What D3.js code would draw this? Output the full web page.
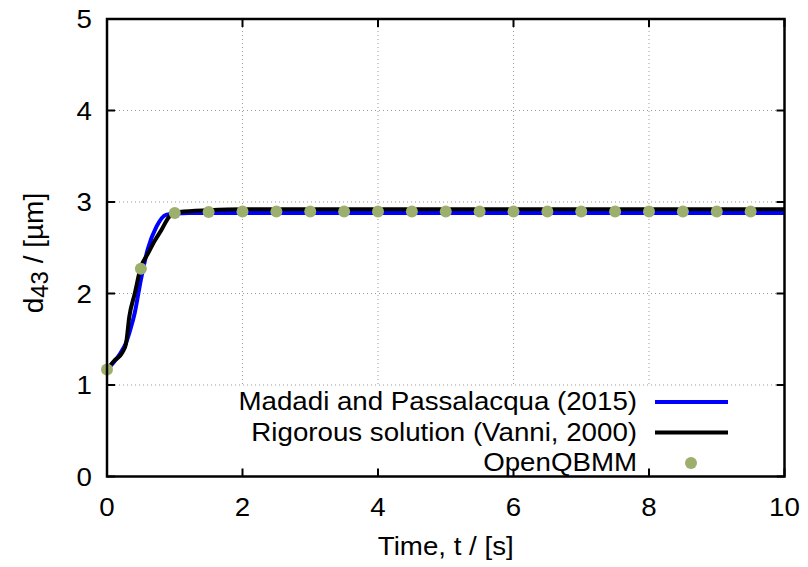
<!DOCTYPE html>
<html><head><meta charset="utf-8">
<script src="https://cdn.jsdelivr.net/npm/d3@7"></script>
<style>body{margin:0;background:#fff}svg{display:block}text{font-family:"Liberation Sans",Arial,sans-serif;fill:#000}</style>
</head><body>
<svg id="c" width="808" height="567"></svg>
<script>
const xTicks = [0, 2, 4, 6, 8, 10];
const yTicks = [0, 1, 2, 3, 4, 5];
const madadiT = [0, 0.1, 0.2, 0.28, 0.35, 0.41, 0.5, 0.6, 0.73, 0.87, 1.02, 1.2, 1.5, 2, 4, 6, 8, 10];
const madadiV = [1.17, 1.25, 1.35, 1.46, 1.62, 1.79, 2.15, 2.48, 2.73, 2.86, 2.875, 2.88, 2.88, 2.88, 2.88, 2.88, 2.88, 2.88];
const vanniT = [0, 0.1, 0.23, 0.28, 0.33, 0.41, 0.5, 0.6, 0.7, 0.8, 0.92, 1.07, 1.5, 2, 4, 6, 8, 10];
const vanniV = [1.17, 1.26, 1.36, 1.45, 1.75, 2.0, 2.29, 2.43, 2.57, 2.69, 2.84, 2.89, 2.91, 2.92, 2.92, 2.92, 2.92, 2.92];
const qbmmT = [0, 0.5, 1, 1.5, 2, 2.5, 3, 3.5, 4, 4.5, 5, 5.5, 6, 6.5, 7, 7.5, 8, 8.5, 9, 9.5];
const qbmmV = [1.17, 2.27, 2.88, 2.89, 2.895, 2.895, 2.895, 2.895, 2.895, 2.895, 2.895, 2.895, 2.895, 2.895, 2.895, 2.895, 2.895, 2.895, 2.895, 2.895];
const legendLabels = ["Madadi and Passalacqua (2015)", "Rigorous solution (Vanni, 2000)", "OpenQBMM"];

const L = 107, R = 784.5, T = 19, B = 476.5;
const FS = 26, SX = 1.065;
const svg = d3.select("#c");
const x = d3.scaleLinear().domain([0, 10]).range([L, R]);
const y = d3.scaleLinear().domain([0, 5]).range([B, T]);

// grid
const grid = svg.append("g").attr("stroke", "#999").attr("stroke-width", 1).attr("stroke-dasharray", "1,3");
xTicks.filter(v => v > 0 && v < 10).forEach(v => grid.append("line").attr("x1", x(v)).attr("x2", x(v)).attr("y1", T).attr("y2", B));
yTicks.filter(v => v > 0 && v < 5).forEach(v => grid.append("line").attr("x1", L).attr("x2", R).attr("y1", y(v)).attr("y2", y(v)));

// legend background
svg.append("rect").attr("x", 234).attr("y", 387).attr("width", R - 234 - 1).attr("height", B - 387 - 1).attr("fill", "#fff");

// axes ticks (inward, mirrored)
const tk = svg.append("g").attr("stroke", "#000").attr("stroke-width", 2);
const TL = 8;
xTicks.forEach(v => {
  tk.append("line").attr("x1", x(v)).attr("x2", x(v)).attr("y1", B).attr("y2", B - TL);
  tk.append("line").attr("x1", x(v)).attr("x2", x(v)).attr("y1", T).attr("y2", T + TL);
});
yTicks.forEach(v => {
  tk.append("line").attr("x1", L).attr("x2", L + TL).attr("y1", y(v)).attr("y2", y(v));
  tk.append("line").attr("x1", R).attr("x2", R - TL).attr("y1", y(v)).attr("y2", y(v));
});

// tick labels
function stext(px, py, str, anchor) {
  return svg.append("text").attr("transform", `translate(${px},${py}) scale(${SX},1)`)
    .attr("text-anchor", anchor).attr("font-size", FS).text(str);
}
xTicks.forEach(v => stext(x(v), 516, String(v), "middle"));
yTicks.forEach(v => stext(92, y(v) + 9, String(v), "end"));

// axis titles
stext((L + R) / 2, 555, "Time, t / [s]", "middle");
const YFS = 28;
const yl = svg.append("text").attr("transform", `translate(43,253) rotate(-90)`)
  .attr("text-anchor", "middle").attr("font-size", YFS);
yl.append("tspan").text("d");
yl.append("tspan").attr("font-size", YFS * 0.85).attr("dy", 5).text("43");
yl.append("tspan").attr("dy", -5).text(" / [\u00b5m]");

// lines
const line = d3.line().x(d => x(d[0])).y(d => y(d[1])).curve(d3.curveMonotoneX);
const blue = madadiT.map((t, i) => [t, madadiV[i]]);
const black = vanniT.map((t, i) => [t, vanniV[i]]);
svg.append("path").attr("d", line(blue)).attr("fill", "none").attr("stroke", "#0000ff").attr("stroke-width", 4);
svg.append("path").attr("d", line(black)).attr("fill", "none").attr("stroke", "#000").attr("stroke-width", 4);

// points
svg.append("g").selectAll("circle").data(qbmmT.map((t, i) => [t, qbmmV[i]])).join("circle")
  .attr("cx", d => x(d[0])).attr("cy", d => y(d[1])).attr("r", 6).attr("fill", "#9caf6d");

// legend
const rows = [402, 432.5, 463];
legendLabels.forEach((s, i) => stext(637, rows[i] + 8, s, "end"));
svg.append("line").attr("x1", 655).attr("x2", 728).attr("y1", rows[0]).attr("y2", rows[0]).attr("stroke", "#0000ff").attr("stroke-width", 4);
svg.append("line").attr("x1", 655).attr("x2", 728).attr("y1", rows[1]).attr("y2", rows[1]).attr("stroke", "#000").attr("stroke-width", 4);
svg.append("circle").attr("cx", 691).attr("cy", rows[2]).attr("r", 6).attr("fill", "#9caf6d");

// border
svg.append("rect").attr("x", L).attr("y", T).attr("width", R - L).attr("height", B - T)
  .attr("fill", "none").attr("stroke", "#000").attr("stroke-width", 2.5);
</script>
</body></html>
